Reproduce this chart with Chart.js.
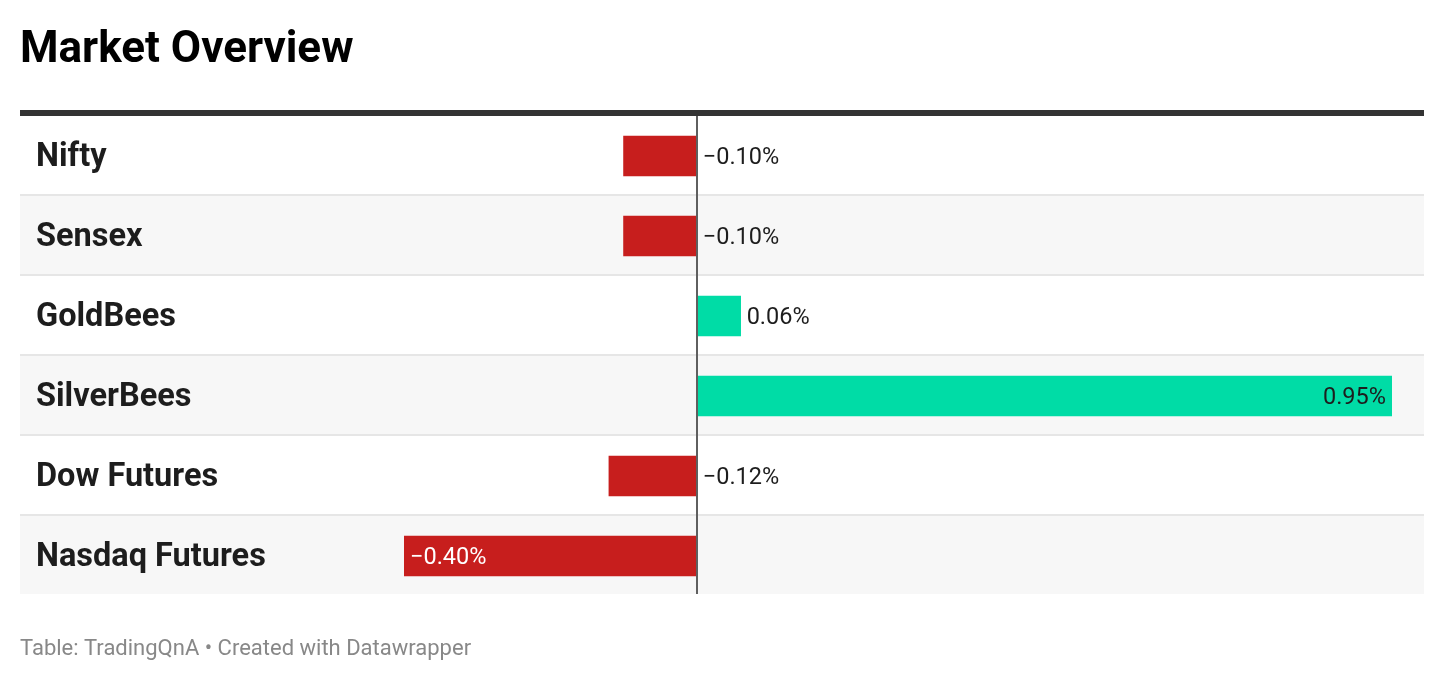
<!DOCTYPE html>
<html>
<head>
<meta charset="utf-8">
<script src="https://cdn.jsdelivr.net/npm/chart.js@4/dist/chart.umd.min.js"></script>
<style>
  html, body { margin: 0; padding: 0; background: #fff; }
  #wrap { position: relative; width: 1444px; height: 680px; }
</style>
</head>
<body>
<div id="wrap"><canvas id="c"></canvas></div>
<script>
const titleText = "Market Overview";
const footerText = "Table: TradingQnA \u2022 Created with Datawrapper";
const categories = ["Nifty", "Sensex", "GoldBees", "SilverBees", "Dow Futures", "Nasdaq Futures"];
const values = [-0.10, -0.10, 0.06, 0.95, -0.12, -0.40];
const axisMin = -0.40;
const axisMax = 0.95;

const RED = "#c71e1d";
const GREEN = "#00dca6";
const FONT = "Roboto, 'Noto Sans', sans-serif";

function fmt(v) {
  const s = Math.abs(v).toFixed(2) + "%";
  return v < 0 ? "\u2212" + s : s;
}

const tablePlugin = {
  id: "tablePlugin",
  beforeDatasetsDraw(chart) {
    const ctx = chart.ctx;
    const y = chart.scales.y;
    const area = chart.chartArea;
    const n = categories.length;
    const rowH = (area.bottom - area.top) / n;
    ctx.save();
    // title
    ctx.fillStyle = "#000";
    ctx.font = "bold 44px " + FONT;
    ctx.textBaseline = "alphabetic";
    ctx.textAlign = "left";
    ctx.fillText(titleText, 20, 62);
    // rows
    for (let i = 0; i < n; i++) {
      const cy = y.getPixelForValue(i);
      const top = cy - rowH / 2;
      if (i % 2 === 1) {
        ctx.fillStyle = "#f7f7f7";
        ctx.fillRect(20, top, 1404, rowH - 2);
      }
      if (i < n - 1) {
        ctx.fillStyle = "#e6e6e6";
        ctx.fillRect(20, top + rowH - 2, 1404, 2);
      }
      ctx.fillStyle = "#1d1d1d";
      ctx.font = "bold 32.5px " + FONT;
      ctx.textAlign = "left";
      ctx.textBaseline = "alphabetic";
      ctx.fillText(categories[i], 36, cy + 10);
    }
    // thick header line
    ctx.fillStyle = "#333333";
    ctx.fillRect(20, area.top - 6, 1404, 6);
    // footer
    ctx.fillStyle = "#888888";
    ctx.font = "22px " + FONT;
    ctx.fillText(footerText, 20, 655);
    ctx.restore();
  },
  afterDatasetsDraw(chart) {
    const ctx = chart.ctx;
    const x = chart.scales.x;
    const y = chart.scales.y;
    const area = chart.chartArea;
    const zx = x.getPixelForValue(0);
    ctx.save();
    ctx.fillStyle = "#5f5f5f";
    ctx.fillRect(Math.round(zx) - 1, area.top, 2, area.bottom - area.top - 2);
    ctx.font = "23.5px " + FONT;
    ctx.textBaseline = "alphabetic";
    for (let i = 0; i < values.length; i++) {
      const v = values[i];
      const cy = y.getPixelForValue(i);
      const ex = x.getPixelForValue(v);
      const len = Math.abs(ex - zx);
      const label = fmt(v);
      const by = cy + 8;
      if (len > 200) {
        if (v >= 0) {
          ctx.fillStyle = "#1d1d1d";
          ctx.textAlign = "right";
          ctx.fillText(label, ex - 6, by);
        } else {
          ctx.fillStyle = "#ffffff";
          ctx.textAlign = "left";
          ctx.fillText(label, ex + 6, by);
        }
      } else {
        ctx.fillStyle = "#1d1d1d";
        ctx.textAlign = "left";
        ctx.fillText(label, (v >= 0 ? ex : zx) + 6, by);
      }
    }
    ctx.restore();
  }
};

function build() {
  new Chart(document.getElementById("c"), {
    type: "bar",
    data: {
      labels: categories,
      datasets: [{
        data: values,
        backgroundColor: values.map(v => v < 0 ? RED : GREEN),
        borderWidth: 0,
        barThickness: 40
      }]
    },
    options: {
      indexAxis: "y",
      responsive: true,
      maintainAspectRatio: false,
      animation: false,
      events: [],
      layout: { padding: { left: 404, right: 52, top: 116, bottom: 84 } },
      plugins: { legend: { display: false }, tooltip: { enabled: false }, title: { display: false } },
      scales: {
        x: { display: false, min: axisMin, max: axisMax },
        y: { display: false }
      }
    },
    plugins: [tablePlugin]
  });
}

if (document.fonts && document.fonts.load) {
  Promise.all([
    document.fonts.load("bold 44px Roboto"),
    document.fonts.load("22px Roboto")
  ]).then(build, build);
} else {
  build();
}
</script>
</body>
</html>
